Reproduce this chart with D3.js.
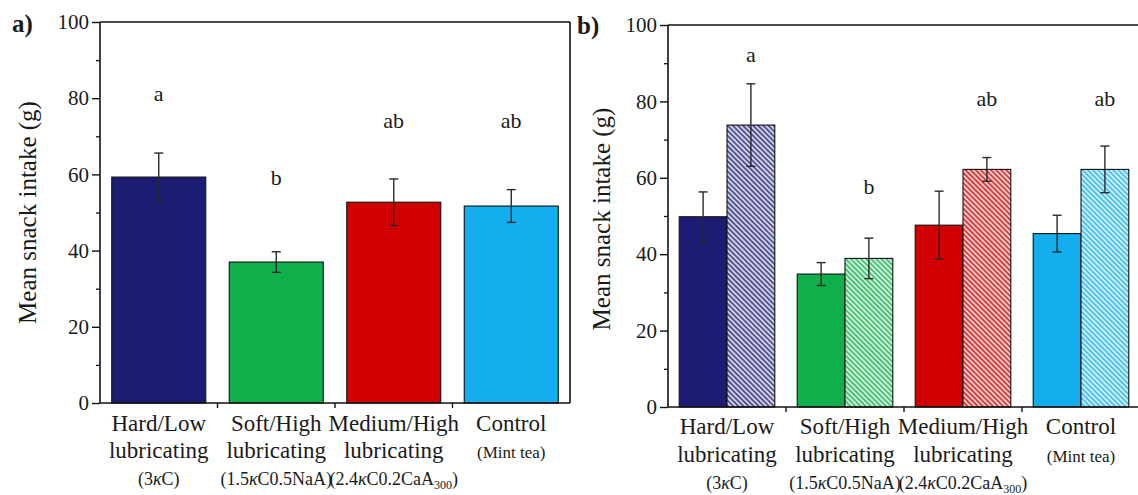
<!DOCTYPE html>
<html>
<head>
<meta charset="utf-8">
<script src="https://cdn.jsdelivr.net/npm/d3@7"></script>
<style>
  html, body { margin: 0; padding: 0; background: #ffffff; }
  svg { display: block; }
  text { font-family: "Liberation Serif", "Times New Roman", Times, "Nimbus Roman", "DejaVu Serif", "Noto Serif", serif; fill: #1a1a1a; }
</style>
</head>
<body>
<svg id="chart" width="1138" height="495"></svg>
<script>
// ---------------- data ----------------
const categories = ["Hard/Low", "Soft/High", "Medium/High", "Control"];
const labelLine2 = ["lubricating", "lubricating", "lubricating", "(Mint tea)"];
const labelLine3 = [
  [["(3", ""], ["κ", "i"], ["C)", ""]],
  [["(1.5", ""], ["κ", "i"], ["C0.5NaA)", ""]],
  [["(2.4", ""], ["κ", "i"], ["C0.2CaA", ""], ["300", "sub"], [")", ""]],
  []
];
const colors = ["#1c1c72", "#0fb04c", "#d00000", "#12aeee"];

// panel a
const aMeans = [59.3, 37.0, 52.7, 51.7];
const aErrors = [6.3, 2.7, 6.1, 4.3];
const aLetters = ["a", "b", "ab", "ab"];
// panel b (solid = first session, hatched = second session)
const bSolidMeans = [49.8, 34.8, 47.6, 45.4];
const bSolidErrors = [6.5, 3.0, 8.9, 4.8];
const bHatchMeans = [73.8, 38.9, 62.2, 62.2];
const bHatchErrors = [10.8, 5.3, 3.1, 6.1];
const bLetters = ["a", "b", "ab", "ab"];

const yTicks = [0, 20, 40, 60, 80, 100];
const yMinorTicks = [10, 30, 50, 70, 90];
const yTitle = "Mean snack intake (g)";

// letter positions (in data units)
const aLetterVals = [80.5, 58.5, 73.5, 73.5];
const bLetterVals = [91.7, 57.0, 80.2, 80.2];

const SERIF = '"Liberation Serif", "Times New Roman", Times, "Nimbus Roman", "DejaVu Serif", serif';

// ---------------- drawing ----------------
const svg = d3.select("#chart");
const defs = svg.append("defs");

colors.forEach((c, i) => {
  const p = defs.append("pattern")
    .attr("id", "hatch" + i)
    .attr("patternUnits", "userSpaceOnUse")
    .attr("width", 3.6).attr("height", 3.6)
    .attr("patternTransform", "rotate(-45)");
  p.append("rect").attr("width", 3.6).attr("height", 3.6)
    .attr("fill", d3.interpolateRgb(c, "#ffffff")(0.8));
  p.append("line").attr("x1", 0.9).attr("y1", 0).attr("x2", 0.9).attr("y2", 3.6)
    .attr("stroke", c).attr("stroke-width", 1.5).attr("stroke-opacity", 0.85);
});

function drawPanel(cfg) {
  const g = svg.append("g").attr("font-family", SERIF);
  const x = d3.scaleBand().domain(categories).range([cfg.left, cfg.right])
    .paddingInner(cfg.padIn).paddingOuter(cfg.padOut);
  const y = d3.scaleLinear().domain([0, 100]).range([cfg.bottom, cfg.top]);
  const step = x.step();

  // frame
  g.append("line").attr("x1", cfg.left).attr("x2", cfg.frameRight)
    .attr("y1", cfg.top).attr("y2", cfg.top).attr("stroke", "#111").attr("stroke-width", 1.6);
  g.append("line").attr("x1", cfg.frameRight).attr("x2", cfg.frameRight)
    .attr("y1", cfg.top).attr("y2", cfg.bottom).attr("stroke", "#111").attr("stroke-width", 1.6);

  // bars
  const series = cfg.series;
  const inner = d3.scaleBand().domain(d3.range(series.length)).range([0, x.bandwidth()]);
  series.forEach((s, si) => {
    g.selectAll(null).data(categories).enter().append("rect")
      .attr("x", d => x(d) + inner(si))
      .attr("y", (d, i) => y(s.means[i]))
      .attr("width", inner.bandwidth())
      .attr("height", (d, i) => y(0) - y(s.means[i]))
      .attr("fill", (d, i) => s.hatch ? "url(#hatch" + i + ")" : colors[i])
      .attr("stroke", "#111").attr("stroke-width", 1.1);
  });
  // error bars
  series.forEach((s, si) => {
    categories.forEach((c, i) => {
      const cx = x(c) + inner(si) + inner.bandwidth() / 2;
      const hi = y(s.means[i] + s.errs[i]), lo = y(s.means[i] - s.errs[i]);
      const col = "#2a2a2a";
      g.append("line").attr("x1", cx).attr("x2", cx).attr("y1", hi).attr("y2", lo)
        .attr("stroke", col).attr("stroke-width", 1.4);
      [hi, lo].forEach(yy => g.append("line").attr("x1", cx - 4.5).attr("x2", cx + 4.5)
        .attr("y1", yy).attr("y2", yy).attr("stroke", col).attr("stroke-width", 1.4));
    });
  });

  // y axis
  const yAxis = d3.axisLeft(y).tickValues(yTicks).tickSize(8).tickPadding(3).tickFormat(d3.format("d"));
  const ya = g.append("g").attr("transform", `translate(${cfg.left},0)`).call(yAxis)
    .attr("font-family", SERIF);
  ya.select(".domain").attr("stroke", "#111").attr("stroke-width", 1.6).attr("d", `M0,${cfg.top}V${cfg.bottom}`);
  ya.selectAll(".tick line").attr("stroke", "#111").attr("stroke-width", 1.4);
  ya.selectAll(".tick text").attr("font-size", 21).attr("fill", "#1a1a1a");
  const yMinor = d3.axisLeft(y).tickValues(yMinorTicks).tickSize(4).tickFormat("");
  const ym = g.append("g").attr("transform", `translate(${cfg.left},0)`).call(yMinor);
  ym.select(".domain").remove();
  ym.selectAll(".tick line").attr("stroke", "#111").attr("stroke-width", 1.3);

  // x axis line + ticks at band boundaries
  g.append("line").attr("x1", cfg.left).attr("x2", cfg.frameRight)
    .attr("y1", cfg.bottom).attr("y2", cfg.bottom).attr("stroke", "#111").attr("stroke-width", 1.6);
  const bounds = d3.range(1, categories.length).map(k => cfg.left + k * step);
  g.selectAll(null).data(bounds).enter().append("line")
    .attr("x1", d => d).attr("x2", d => d)
    .attr("y1", cfg.bottom).attr("y2", cfg.bottom + 5)
    .attr("stroke", "#111").attr("stroke-width", 1.4);

  // category labels
  categories.forEach((c, i) => {
    const cx = x(c) + x.bandwidth() / 2;
    g.append("text").attr("x", cx).attr("y", cfg.lab1).attr("text-anchor", "middle")
      .attr("font-size", 23).text(c);
    const small = labelLine2[i].startsWith("(");
    g.append("text").attr("x", cx).attr("y", cfg.lab2).attr("text-anchor", "middle")
      .attr("font-size", small ? 17 : 23).text(labelLine2[i]);
    if (labelLine3[i].length) {
      const t = g.append("text").attr("x", cx).attr("y", cfg.lab3).attr("text-anchor", "middle")
        .attr("font-size", 18);
      labelLine3[i].forEach(([s, style]) => {
        const ts = t.append("tspan").text(s);
        if (style === "i") ts.attr("font-style", "italic");
        if (style === "sub") ts.attr("font-size", 12).attr("baseline-shift", "-30%");
      });
    }
  });

  // significance letters
  categories.forEach((c, i) => {
    const lx = x(c) + inner(series.length - 1) + inner.bandwidth() / 2;
    const cx = series.length === 1 ? x(c) + x.bandwidth() / 2 : lx;
    g.append("text").attr("x", cx).attr("y", y(cfg.letterVals[i])).attr("text-anchor", "middle")
      .attr("dominant-baseline", "middle").attr("font-size", 22).text(cfg.letters[i]);
  });

  // y title
  g.append("text").attr("transform", `translate(${cfg.titleX},${(cfg.top + cfg.bottom) / 2 + cfg.titleDy}) rotate(-90)`)
    .attr("text-anchor", "middle").attr("font-size", 25).text(yTitle);

  // panel label
  g.append("text").attr("x", cfg.panelX).attr("y", cfg.panelY).attr("font-size", 25)
    .attr("font-weight", "bold").attr("fill", "#111").text(cfg.panel);
}

drawPanel({
  left: 100, right: 570, frameRight: 570, top: 22, bottom: 403,
  padIn: 0.2, padOut: 0.1,
  series: [{ means: aMeans, errs: aErrors, hatch: false }],
  letters: aLetters, letterVals: aLetterVals,
  lab1: 431, lab2: 458, lab3: 485,
  titleX: 36, titleDy: 0, panel: "a)", panelX: 12, panelY: 32
});

drawPanel({
  left: 668, right: 1140, frameRight: 1141, top: 25, bottom: 407,
  padIn: 0.19, padOut: 0.095,
  series: [{ means: bSolidMeans, errs: bSolidErrors, hatch: false },
           { means: bHatchMeans, errs: bHatchErrors, hatch: true }],
  letters: bLetters, letterVals: bLetterVals,
  lab1: 434, lab2: 462, lab3: 489,
  titleX: 610, titleDy: 3, panel: "b)", panelX: 577, panelY: 34
});
</script>
</body>
</html>
